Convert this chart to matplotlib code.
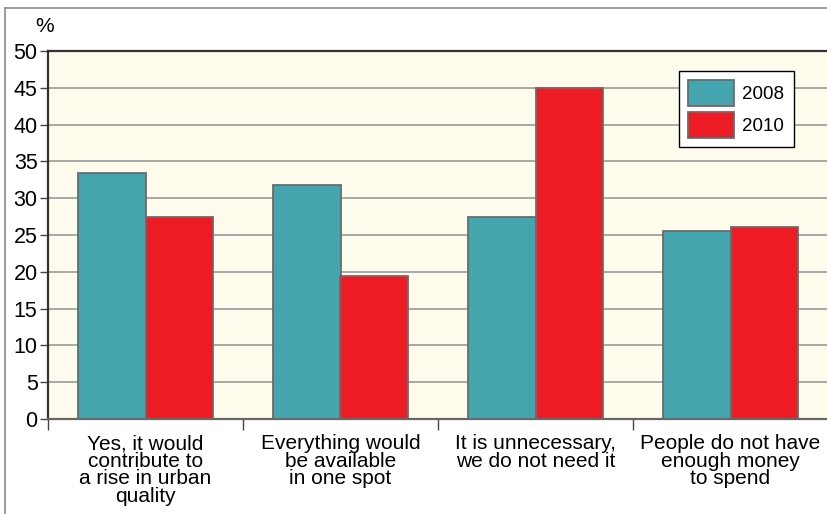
import matplotlib
matplotlib.use("Agg")
import matplotlib.pyplot as plt
from matplotlib.lines import Line2D
import numpy as np

plt.rcParams['font.family'] = ['Liberation Sans', 'DejaVu Sans']

categories = ["Yes, it would\ncontribute to\na rise in urban\nquality",
              "Everything would\nbe available\nin one spot",
              "It is unnecessary,\nwe do not need it",
              "People do not have\nenough money\nto spend"]
v2008 = [33.4, 31.8, 27.5, 25.6]
v2010 = [27.5, 19.4, 45.0, 26.1]
series_labels = ["2008", "2010"]
yticks = [0, 5, 10, 15, 20, 25, 30, 35, 40, 45, 50]

teal = "#45A5AE"
red = "#ED1C24"
edge = "#6b6b6b"

fig = plt.figure(figsize=(8.27, 5.14), dpi=100)
ax = fig.add_axes([48/827, 1-419/514, 780/827, 368/514])
ax.set_facecolor("#FFFCEE")

x = np.arange(len(categories)) + 0.5
w = 0.345
ax.bar(x - w/2, v2008, w, color=teal, edgecolor=edge, linewidth=1.3, label=series_labels[0], zorder=3)
ax.bar(x + w/2, v2010, w, color=red, edgecolor=edge, linewidth=1.3, label=series_labels[1], zorder=3)

ax.set_xlim(0, 4)
ax.set_ylim(0, 50)
ax.set_yticks(yticks)
ax.set_yticklabels([str(t) for t in yticks], fontsize=15.5)
ax.yaxis.grid(True, color="#9a9a9a", linewidth=1.2, zorder=0)
ax.set_axisbelow(True)
ax.tick_params(axis='y', length=6, width=1, color="#444444", pad=1.5)

ax.set_xticks([0, 1, 2, 3, 4])
ax.set_xticklabels([])
ax.set_xticks(x, minor=True)
ax.set_xticklabels(categories, minor=True, fontsize=15, linespacing=0.9, va='top')
ax.tick_params(axis='x', which='major', length=8, width=1, color="#444444")
ax.tick_params(axis='x', which='minor', length=0, pad=11)

for s in ['top', 'left']:
    ax.spines[s].set_color("#333333")
    ax.spines[s].set_linewidth(1.6)
ax.spines['bottom'].set_color("#666666")
ax.spines['bottom'].set_linewidth(1.6)
ax.spines['right'].set_visible(False)

fig.text(45/827, 1-27/514, "%", fontsize=15, ha='center', va='center')

# outer frame lines
fig.add_artist(Line2D([5/827, 1.0], [1-8/514, 1-8/514], color="#8a8a8a", linewidth=1.2, transform=fig.transFigure))
fig.add_artist(Line2D([5/827, 5/827], [0, 1-8/514], color="#8a8a8a", linewidth=1.2, transform=fig.transFigure))

leg = ax.legend(loc='upper left', bbox_to_anchor=((679-48)/780, (419-71)/368),
                fontsize=13.5, frameon=True, fancybox=False, edgecolor="black",
                handlelength=2.45, handleheight=1.75, handletextpad=0.43,
                borderpad=0.5, labelspacing=0.3, borderaxespad=0)
leg.get_frame().set_linewidth(1.0)
leg.get_frame().set_facecolor("white")
leg.get_frame().set_alpha(1)

fig.savefig("out.png", dpi=100)
